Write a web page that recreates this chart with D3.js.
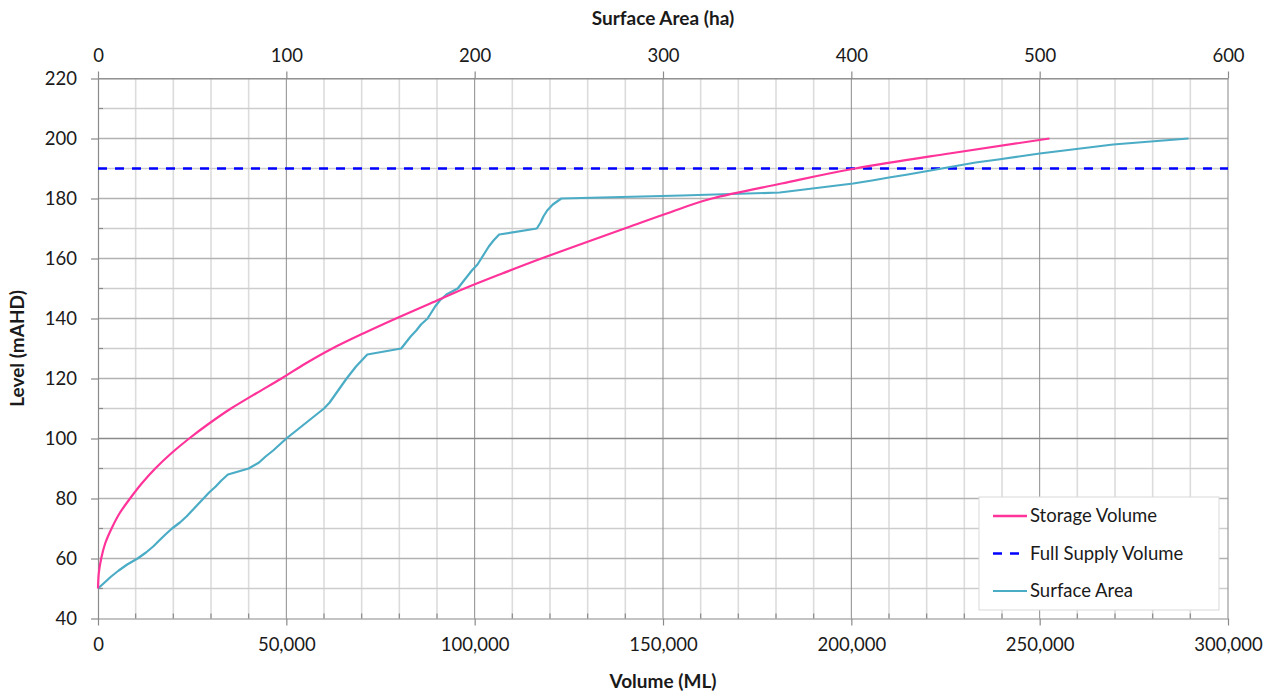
<!DOCTYPE html>
<html>
<head>
<meta charset="utf-8">
<script src="https://cdn.jsdelivr.net/npm/d3@7"></script>
<style>
  html, body { margin: 0; padding: 0; background: #fff; }
  svg { display: block; }
  text { font-family: Lato, "Open Sans", sans-serif; fill: #1a1a1a; }
</style>
</head>
<body>
<svg id="chart" width="1279" height="694"></svg>
<script>
// Storage volume (ML) by reservoir level (mAHD)
const storageLevels = [50,55,60,65,70,75,80,85,90,95,100,105,110,115,120,125,130,135,140,145,150,155,160,165,170,175,180,185,190,195,200];
const storageVolume = [0,200,850,1900,3600,5700,8500,11600,15200,19400,24200,29500,35300,41900,48700,55100,62200,70400,79100,88200,97300,107300,117700,128700,139800,151000,163000,181500,201000,226000,252600];

// Surface area (ha) by reservoir level (mAHD)
const areaLevels = [50,52,54,56,58,60,62,64,66,68,70,72,74,76,78,80,82,84,86,88,90,92,94,96,98,100,102,104,106,108,110,112,116,120,124,128,130,132,134,136,138,140,142,144,146,148,150,152,154,156,158,160,162,164,166,168,170,172,174,176,178,180,181,182,183,184,185,186,187,188,189,190,191,192,193,194,195,196,197,198,199,200];
const surfaceArea = [0,3.5,7,11,15.5,21,25.5,29.3,32.5,35.8,39.3,43.5,47,50,53,56,59,62.5,65.5,69,80,85.5,89,93,96.5,100,104,108,112,116,120,123,127.5,132,137,143,161,163.5,166,169,171.5,175,177,179,181.5,185,191,193.5,196,198.5,201.5,203.5,205.5,207.5,210,213,233,235,236.5,238.5,241.5,246,310,362,375,388,401,411,420,430,439,448,457,466,478,489,500,513,526,539,559,579];

// Full supply level (mAHD)
const fullSupplyLevel = 190;

// Axis ticks
const volumeTicks = [0,50000,100000,150000,200000,250000,300000];
const areaTicks = [0,100,200,300,400,500,600];
const levelTicks = [40,60,80,100,120,140,160,180,200,220];

// Legend entries
const legendLabels = ["Storage Volume","Full Supply Volume","Surface Area"];

const margin = {left: 98, right: 51, top: 78.5, bottom: 75.5};
const W = 1279, H = 694;
const svg = d3.select("#chart");

const x = d3.scaleLinear().domain([0, 300000]).range([margin.left, W - margin.right]);
const xArea = d3.scaleLinear().domain([0, 600]).range([margin.left, W - margin.right]);
const y = d3.scaleLinear().domain([40, 220]).range([H - margin.bottom, margin.top]);

const x0 = x.range()[0], x1 = x.range()[1], y0 = y.range()[0], y1 = y.range()[1];

// Grid
const grid = svg.append("g");
d3.range(10000, 300000, 10000).filter(v => v % 50000 !== 0).forEach(v => {
  grid.append("line").attr("x1", x(v)).attr("x2", x(v)).attr("y1", y1).attr("y2", y0)
    .attr("stroke", "#dcdcdc").attr("stroke-width", 1.6);
});
d3.range(50, 220, 10).forEach(l => {
  const major = l % 20 === 0;
  grid.append("line").attr("x1", x0).attr("x2", x1).attr("y1", y(l)).attr("y2", y(l))
    .attr("stroke", l === 100 ? "#8a8a8a" : (major ? "#b2b2b2" : "#cdcdcd"))
    .attr("stroke-width", l === 100 ? 1.6 : 1.3);
});
[50000,100000,150000,200000,250000].forEach(v => {
  grid.append("line").attr("x1", x(v)).attr("x2", x(v)).attr("y1", y1).attr("y2", y0)
    .attr("stroke", "#8c8c8c").attr("stroke-width", 1);
});
// top border + right border
grid.append("line").attr("x1", x0).attr("x2", x1).attr("y1", y1).attr("y2", y1).attr("stroke", "#9a9a9a").attr("stroke-width", 1.2);
grid.append("line").attr("x1", x1).attr("x2", x1).attr("y1", y1).attr("y2", y0).attr("stroke", "#9a9a9a").attr("stroke-width", 1.2);

// Axes
function styleAxis(g) {
  g.select(".domain").attr("stroke", "#8a8a8a").attr("stroke-width", 1.2);
  g.selectAll(".tick line").attr("stroke", "#8a8a8a").attr("stroke-width", 1.2);
  g.selectAll(".tick text").attr("font-size", 18.5).attr("fill", "#1a1a1a")
    .attr("font-family", "Lato, 'Open Sans', sans-serif");
}

// minor ticks (inside)
const minor = svg.append("g");
d3.range(10000, 300000, 10000).filter(v => v % 50000 !== 0).forEach(v => {
  minor.append("line").attr("x1", x(v)).attr("x2", x(v)).attr("y1", y0).attr("y2", y0 - 5)
    .attr("stroke", "#8a8a8a").attr("stroke-width", 1.2);
});
d3.range(50, 220, 20).forEach(l => {
  minor.append("line").attr("x1", x0).attr("x2", x0 + 5).attr("y1", y(l)).attr("y2", y(l))
    .attr("stroke", "#8a8a8a").attr("stroke-width", 1.2);
});

const gx = svg.append("g").attr("transform", `translate(0,${y0})`)
  .call(d3.axisBottom(x).tickValues(volumeTicks).tickFormat(d3.format(",")).tickSize(7).tickPadding(12).tickSizeOuter(0));
styleAxis(gx);

const gxTop = svg.append("g").attr("transform", `translate(0,${y1})`)
  .call(d3.axisTop(xArea).tickValues(areaTicks).tickFormat(d3.format("d")).tickSize(7).tickPadding(10).tickSizeOuter(0));
styleAxis(gxTop);

const gy = svg.append("g").attr("transform", `translate(${x0},0)`)
  .call(d3.axisLeft(y).tickValues(levelTicks).tickFormat(d3.format("d")).tickSize(7).tickPadding(14).tickSizeOuter(0));
styleAxis(gy);

// Axis titles
svg.append("text").attr("x", (x0 + x1) / 2).attr("y", 688).attr("text-anchor", "middle")
  .attr("font-size", 19).attr("font-weight", "bold").text("Volume (ML)");
svg.append("text").attr("x", (x0 + x1) / 2).attr("y", 25).attr("text-anchor", "middle")
  .attr("font-size", 19).attr("font-weight", "bold").text("Surface Area (ha)");
svg.append("text").attr("transform", `translate(24,${(y0 + y1) / 2}) rotate(-90)`).attr("text-anchor", "middle")
  .attr("font-size", 19).attr("font-weight", "bold").text("Level (mAHD)");

// Series
const plot = svg.append("g");

const storageData = storageLevels.map((l, i) => ({v: storageVolume[i], l}));
const areaData = areaLevels.map((l, i) => ({a: surfaceArea[i], l}));

plot.append("line").attr("x1", x0).attr("x2", x1)
  .attr("y1", y(fullSupplyLevel)).attr("y2", y(fullSupplyLevel))
  .attr("stroke", "#0000ff").attr("stroke-width", 2.4).attr("stroke-dasharray", "9,8");

plot.append("path").datum(areaData)
  .attr("d", d3.line().x(d => xArea(d.a)).y(d => y(d.l)))
  .attr("fill", "none").attr("stroke", "#4bacc6").attr("stroke-width", 2.2).attr("stroke-linejoin", "round");

plot.append("path").datum(storageData)
  .attr("d", d3.line().x(d => x(d.v)).y(d => y(d.l)).curve(d3.curveMonotoneY))
  .attr("fill", "none").attr("stroke", "#ff3399").attr("stroke-width", 2.2);

// Legend
const lg = svg.append("g").attr("transform", "translate(979,497)");
lg.append("rect").attr("width", 240).attr("height", 113).attr("fill", "#fff").attr("stroke", "#d9d9d9").attr("stroke-width", 1);
const legendStyles = [
  {stroke: "#ff3399", dash: null, w: 2.6},
  {stroke: "#0000ff", dash: "9,8", w: 2.6},
  {stroke: "#4bacc6", dash: null, w: 2.2}
];
legendLabels.forEach((t, i) => {
  const cy = 19 + i * 37.5;
  lg.append("line").attr("x1", 14).attr("x2", 48).attr("y1", cy).attr("y2", cy)
    .attr("stroke", legendStyles[i].stroke).attr("stroke-width", legendStyles[i].w)
    .attr("stroke-dasharray", legendStyles[i].dash);
  lg.append("text").attr("x", 51).attr("y", cy).attr("dy", "0.35em").attr("font-size", 18.5).text(t);
});
</script>
</body>
</html>
